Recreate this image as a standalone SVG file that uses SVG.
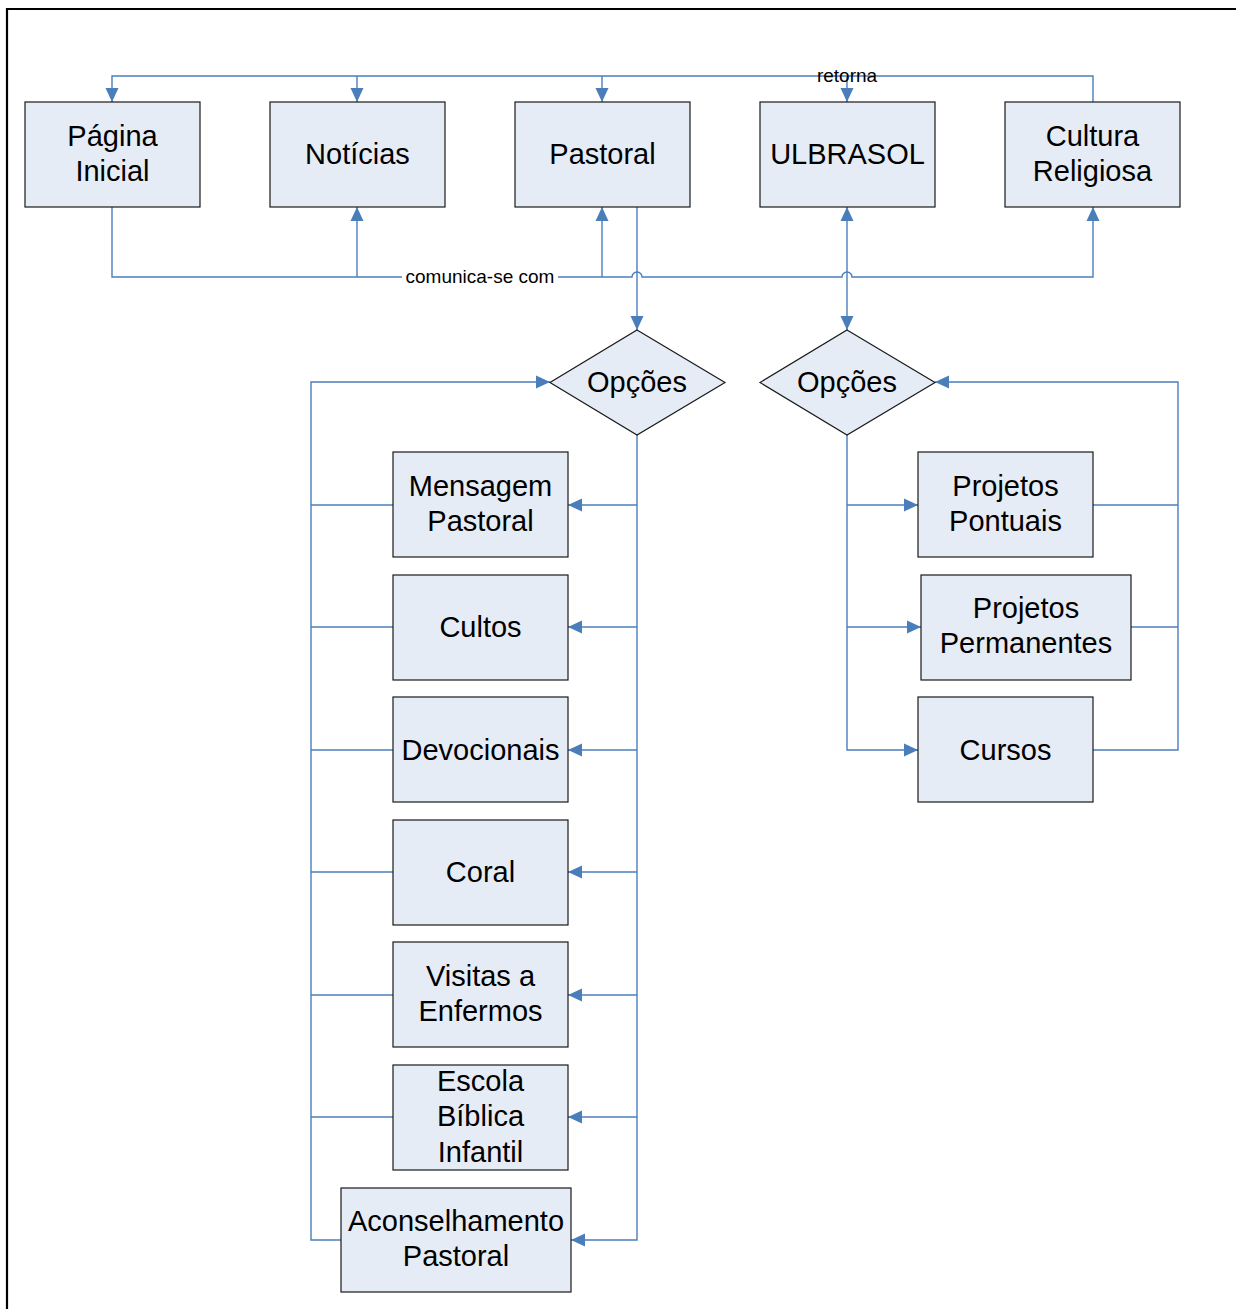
<svg xmlns="http://www.w3.org/2000/svg" width="1236" height="1309" viewBox="0 0 1236 1309">
<style>
.box{fill:#E6ECF6;stroke:#1a1a1a;stroke-width:1.2}
.t{font-family:"Liberation Sans",Arial,sans-serif;font-size:29px;fill:#000;text-anchor:middle}
.lbl{font-family:"Liberation Sans",Arial,sans-serif;font-size:19px;fill:#000;text-anchor:middle}
.c{fill:none;stroke:#4A7EBB;stroke-width:1.4}
.a{marker-end:url(#arr)}
</style>
<defs>
<marker id="arr" markerUnits="userSpaceOnUse" markerWidth="14" markerHeight="14" refX="14" refY="7" orient="auto-start-reverse" viewBox="0 0 14 14">
<path d="M0,0.5 L14,7 L0,13.5 z" fill="#4A7EBB"/>
</marker>
</defs>
<rect width="1236" height="1309" fill="#fff"/>
<path d="M7,1309 V9 H1236" fill="none" stroke="#000" stroke-width="2.2"/>

<g id="connectors">
<!-- retorna -->
<path class="c a" d="M1093,102 V76 H112 V102"/>
<path class="c a" d="M357,76 V102"/>
<path class="c a" d="M602,76 V102"/>
<path class="c a" d="M847,76 V102"/>
<!-- comunica-se com -->
<path class="c a" d="M112,207 V277 H632 a5,5 0 0 1 10,0 H842 a5,5 0 0 1 10,0 H1093 V207"/>
<path class="c a" d="M357,277 V207"/>
<path class="c a" d="M602,277 V207"/>
<path class="c a" d="M637,207 V330"/>
<path class="c a" d="M847,207 V330" marker-start="url(#arr)"/>
<!-- left tree -->
<path class="c a" d="M637,435 V1240 H571"/>
<path class="c a" d="M637,505 H568"/>
<path class="c a" d="M637,627 H568"/>
<path class="c a" d="M637,750 H568"/>
<path class="c a" d="M637,872 H568"/>
<path class="c a" d="M637,995 H568"/>
<path class="c a" d="M637,1117 H568"/>
<path class="c a" d="M341,1240 H311 V382 H550"/>
<path class="c" d="M393,505 H311"/>
<path class="c" d="M393,627 H311"/>
<path class="c" d="M393,750 H311"/>
<path class="c" d="M393,872 H311"/>
<path class="c" d="M393,995 H311"/>
<path class="c" d="M393,1117 H311"/>
<!-- right tree -->
<path class="c a" d="M847,435 V750 H918"/>
<path class="c a" d="M847,505 H918"/>
<path class="c a" d="M847,627 H921"/>
<path class="c a" d="M1093,750 H1178 V382 H935"/>
<path class="c" d="M1093,505 H1178"/>
<path class="c" d="M1131,627 H1178"/>
<!-- labels -->
<text class="lbl" x="847" y="82">retorna</text>
<rect x="402" y="267" width="156" height="20" fill="#fff"/>
<text class="lbl" x="480" y="283">comunica-se com</text>
</g>

<g id="pagina-inicial"><rect class="box" x="25" y="102" width="175" height="105"/><text class="t" x="112.5" y="146">Página</text><text class="t" x="112.5" y="181">Inicial</text></g>
<g id="noticias"><rect class="box" x="270" y="102" width="175" height="105"/><text class="t" x="357.5" y="164">Notícias</text></g>
<g id="pastoral"><rect class="box" x="515" y="102" width="175" height="105"/><text class="t" x="602.5" y="164">Pastoral</text></g>
<g id="ulbrasol"><rect class="box" x="760" y="102" width="175" height="105"/><text class="t" x="847.5" y="164">ULBRASOL</text></g>
<g id="cultura-religiosa"><rect class="box" x="1005" y="102" width="175" height="105"/><text class="t" x="1092.5" y="146">Cultura</text><text class="t" x="1092.5" y="181">Religiosa</text></g>

<g id="opcoes-pastoral"><path class="box" d="M637,330 L725,382.5 L637,435 L550,382.5 z"/><text class="t" x="637" y="392">Opções</text></g>
<g id="opcoes-ulbrasol"><path class="box" d="M847,330 L935,382.5 L847,435 L760,382.5 z"/><text class="t" x="847" y="392">Opções</text></g>

<g id="mensagem-pastoral"><rect class="box" x="393" y="452" width="175" height="105"/><text class="t" x="480.5" y="496">Mensagem</text><text class="t" x="480.5" y="531">Pastoral</text></g>
<g id="cultos"><rect class="box" x="393" y="575" width="175" height="105"/><text class="t" x="480.5" y="637">Cultos</text></g>
<g id="devocionais"><rect class="box" x="393" y="697" width="175" height="105"/><text class="t" x="480.5" y="760">Devocionais</text></g>
<g id="coral"><rect class="box" x="393" y="820" width="175" height="105"/><text class="t" x="480.5" y="882">Coral</text></g>
<g id="visitas-enfermos"><rect class="box" x="393" y="942" width="175" height="105"/><text class="t" x="480.5" y="986">Visitas a</text><text class="t" x="480.5" y="1021">Enfermos</text></g>
<g id="escola-biblica"><rect class="box" x="393" y="1065" width="175" height="105"/><text class="t" x="480.5" y="1091">Escola</text><text class="t" x="480.5" y="1126">Bíblica</text><text class="t" x="480.5" y="1162">Infantil</text></g>
<g id="aconselhamento"><rect class="box" x="341" y="1188" width="230" height="104"/><text class="t" x="456" y="1231">Aconselhamento</text><text class="t" x="456" y="1266">Pastoral</text></g>

<g id="projetos-pontuais"><rect class="box" x="918" y="452" width="175" height="105"/><text class="t" x="1005.5" y="496">Projetos</text><text class="t" x="1005.5" y="531">Pontuais</text></g>
<g id="projetos-permanentes"><rect class="box" x="921" y="575" width="210" height="105"/><text class="t" x="1026" y="618">Projetos</text><text class="t" x="1026" y="653">Permanentes</text></g>
<g id="cursos"><rect class="box" x="918" y="697" width="175" height="105"/><text class="t" x="1005.5" y="760">Cursos</text></g>
</svg>
